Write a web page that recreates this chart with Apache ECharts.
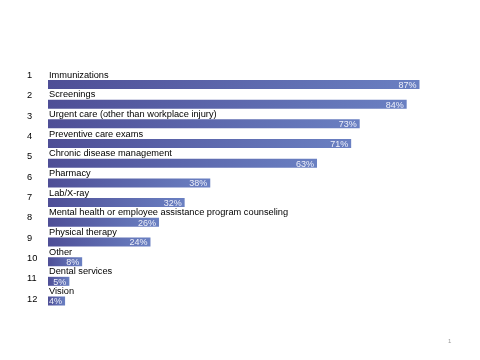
<!DOCTYPE html>
<html>
<head>
<meta charset="utf-8">
<script src="https://cdn.jsdelivr.net/npm/echarts@6/dist/echarts.min.js"></script>
<style>html,body{margin:0;padding:0;background:#fff}#c{width:480px;height:360px}</style>
</head>
<body>
<div id="c"></div>
<script>
const categories = [
  "Immunizations",
  "Screenings",
  "Urgent care (other than workplace injury)",
  "Preventive care exams",
  "Chronic disease management",
  "Pharmacy",
  "Lab/X-ray",
  "Mental health or employee assistance program counseling",
  "Physical therapy",
  "Other",
  "Dental services",
  "Vision"
];
const rankLabels = ["1","2","3","4","5","6","7","8","9","10","11","12"];
const values = [87, 84, 73, 71, 63, 38, 32, 26, 24, 8, 5, 4];
const pageNumber = "1";

const chart = echarts.init(document.getElementById('c'), null, {renderer: 'canvas'});
const font = '"Liberation Sans", Arial, sans-serif';
chart.setOption({
  animation: false,
  backgroundColor: '#ffffff',
  grid: [
    {left: 48, right: 5, top: 74.65, bottom: 49.15, containLabel: false},
    {left: 48, right: 5, top: 65.3, bottom: 50.8, containLabel: false}
  ],
  xAxis: [
    {gridIndex: 0, type: 'value', min: 0, max: 100, show: false},
    {gridIndex: 1, type: 'value', min: 0, max: 100, show: false}
  ],
  yAxis: [
    {
      gridIndex: 0, type: 'category', inverse: true, data: categories,
      axisLine: {show: false}, axisTick: {show: false}, splitLine: {show: false},
      axisLabel: {
        inside: true, margin: 1, align: 'left', verticalAlign: 'bottom',
        padding: [0, 0, 5, 0], color: '#000', fontSize: 9.25, fontFamily: font
      }
    },
    {
      gridIndex: 1, type: 'category', inverse: true, data: rankLabels,
      axisLine: {show: false}, axisTick: {show: false}, splitLine: {show: false},
      axisLabel: {
        margin: 21, align: 'left', verticalAlign: 'middle',
        color: '#000', fontSize: 9.25, fontFamily: font
      }
    }
  ],
  series: [
    {
      type: 'bar', xAxisIndex: 0, yAxisIndex: 0, data: values, barWidth: 9,
      itemStyle: {
        color: new echarts.graphic.LinearGradient(0, 0, 1, 0, [
          {offset: 0, color: '#4e4e96'},
          {offset: 1, color: '#6a80c2'}
        ])
      },
      label: {
        show: true, position: 'insideRight', distance: 3,
        formatter: '{c}%', color: '#eef0fa', fontSize: 9, fontFamily: font,
        offset: [0, 1]
      },
      silent: true
    },
    {
      type: 'bar', xAxisIndex: 1, yAxisIndex: 1,
      data: rankLabels.map(() => 0), barWidth: 1,
      itemStyle: {color: 'rgba(0,0,0,0)'}, silent: true
    }
  ],
  graphic: [
    {type: 'text', left: 448, top: 338,
     style: {text: pageNumber, fill: '#999', font: '6px ' + font}}
  ]
});
</script>
</body>
</html>
